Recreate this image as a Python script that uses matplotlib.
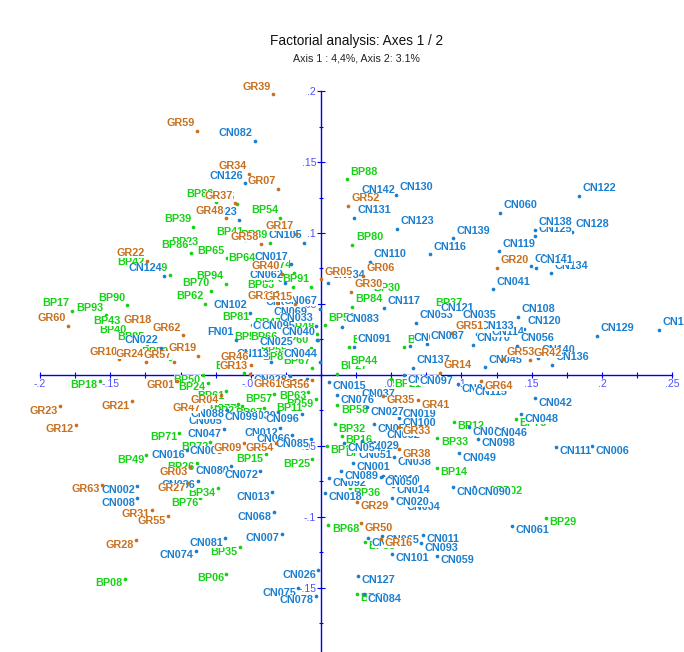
"""Factorial analysis scatter, axes 1 / 2."""

import matplotlib

matplotlib.use("Agg")
import matplotlib.pyplot as plt

# order matters: later labels cover earlier ones
bp_names = ["BP82", "BP75", "BP88", "BP54", "BP39", "BP41", "BP89", "BP23", "BP86", "BP65", "BP64", "BP74",
            "BP79", "BP42", "BP94", "BP70", "BP83", "BP38", "BP91", "BP62", "BP90", "BP17", "BP93", "BP40",
            "BP43", "BP81", "BP47", "BP48", "BP85", "BP56", "BP66", "BP31", "BP60", "BP52", "BP55", "BP87",
            "BP67", "BP10", "BP80", "BP30", "BP84", "BP51", "BP37", "BP09", "BP05", "BP27", "BP44", "BP21",
            "BP58", "BP32", "BP16", "BP19", "BP46", "BP36", "BP33", "BP14", "BP12", "BP78", "BP02", "BP68",
            "BP29", "BP53", "BP69", "BP18", "BP50", "BP24", "BP61", "BP57", "BP63", "BP59", "BP11", "BP77",
            "BP22", "BP07", "BP71", "BP72", "BP15", "BP25", "BP49", "BP26", "BP34", "BP76", "BP35", "BP06",
            "BP08"]
bp_x = [-.0750, -.0600, .0183, -.0290, -.0909, -.0541, -.0363, -.0857, -.0928, -.0669, -.0449, -.0192,
        -.1075, -.1241, -.0679, -.0781, -.0315, -.0199, -.0071, -.0824, -.1379, -.1775, -.1533, -.1367,
        -.1412, -.0493, -.0268, -.0031, -.1241, -.0411, -.0292, -.0023, -.0071, -.1075, -.0221, -.0209,
        -.0062, -.0546, .0223, .0344, .0221, .0026, .0787, .0197, .0589, .0112, .0183, .0496,
        .0116, .0098, .0150, .0041, .0147, .0206, .0828, .0826, .0945, .1388, .1215, .0052,
        .1600, .0315, .0254, -.1574, -.0842, -.0807, -.0674, -.0333, -.0090, -.0038, -.0119, -.0589,
        -.0560, -.0404, -.1009, -.0788, -.0394, -.0064, -.1244, -.0885, -.0733, -.0859, -.0577, -.0674,
        -.1396]
bp_y = [.1218, .1202, .1378, .1107, .1042, .0950, .0929, .0880, .0861, .0822, .0767, .0718,
        .0702, .0739, .0641, .0591, .0582, .0622, .0622, .0500, .0491, .0451, .0420, .0265,
        .0324, .0352, .0310, .0287, .0216, .0216, .0216, .0246, .0192, .0111, .0122, .0075,
        .0047, .0012, .0915, .0556, .0481, .0350, .0451, .0195, .0195, .0007, .0047, -.0030,
        -.0211, -.0345, -.0429, -.0498, -.0516, -.0798, -.0441, -.0653, -.0329, -.0308, -.0786, -.1054,
        -.1005, -.1174, -.1540, -.0040, -.0002, -.0054, -.0113, -.0136, -.0118, -.0171, -.0199, -.0204,
        -.0218, -.0234, -.0406, -.0472, -.0558, -.0593, -.0565, -.0617, -.0798, -.0868, -.1213, -.1401,
        -.1434]

cn_names = ["CN082", "CN126", "CN023", "CN105", "CN017", "CN124", "CN062", "CN102", "CN039", "CN067", "CN069",
            "CN033", "CN024", "CN095", "CN040", "FN01", "CN025", "CN044", "CN113", "CN022", "CN028", "CN086",
            "CN005", "CN088", "CN030", "CN099", "CN096", "CN047", "CN012", "CN066", "CN085", "CN003", "CN016",
            "CN080", "CN072", "CN036", "CN002", "CN008", "CN013", "CN068", "CN074", "CN081", "CN007", "CN026",
            "CN075", "CN078", "CN142", "CN130", "CN131", "CN123", "CN116", "CN139", "CN122", "CN060", "CN125",
            "CN138", "CN128", "CN119", "CN110", "CN143", "CN134", "CN141", "CN034", "CN041", "CN117", "CN083",
            "CN053", "CN121", "CN035", "CN108", "CN120", "CN070", "CN114", "CN133", "CN129", "CN135", "CN056",
            "CN091", "CN032", "CN087", "CN140", "CN136", "CN137", "CN045", "CN031", "CN097", "CN015", "CN037",
            "CN076", "CN027", "CN019", "CN100", "CN055", "CN052", "CN043", "CN115", "CN042", "CN048", "CN064",
            "CN046", "CN098", "CN111", "CN006", "CN049", "CN029", "CN051", "CN054", "CN038", "CN001", "CN092",
            "CN089", "CN010", "CN014", "CN050", "CN018", "CN004", "CN020", "CN077", "CN090", "CN011", "CN093",
            "CN101", "CN059", "CN061", "CN127", "CN084", "CN009", "CN065"]
cn_x = [-.0472, -.0539, -.0584, -.0119, -.0216, -.1116, -.0256, -.0508, -.0137, -.0007, -.0083,
        -.0038, -.0233, -.0169, -.0028, -.0607, -.0185, -.0007, -.0354, -.1141, -.0221, -.0102,
        -.0689, -.0671, -.0306, -.0429, -.0137, -.0691, -.0292, -.0204, -.0071, -.0684, -.0954,
        -.0639, -.0434, -.0878, -.1308, -.1308, -.0349, -.0335, -.0892, -.0681, -.0278, -.0019,
        -.0162, -.0036, .0263, .0536, .0237, .0541, .0776, .0938, .1837, .1272, .1522,
        .1524, .1787, .1267, .0349, .1493, .1638, .1533, .0050, .1225, .0449, .0150,
        .0676, .0828, .0983, .1403, .1447, .1084, .1187, .1109, .1963, .2407, .1393,
        .0235, .0634, .0753, .1547, .1647, .0655, .1168, .0591, .0676, .0059, .0266,
        .0116, .0328, .0557, .0557, .0379, .0441, .0978, .1066, .1522, .1424, .1054,
        .1203, .1116, .1671, .1927, .0980, .0290, .0242, .0164, .0522, .0226, .0057,
        .0142, .0439, .0515, .0427, .0028, .0586, .0508, .0942, .1092, .0728, .0712,
        .0508, .0824, .1362, .0263, .0306, .0337, .0432]
cn_y = [.1647, .1350, .1091, .0929, .0779, .0697, .0650, .0436, .0463, .0465, .0387,
        .0347, .0289, .0289, .0246, .0246, .0181, .0094, .0094, .0192, -.0005, -.0028,
        -.0294, -.0246, -.0258, -.0265, -.0277, -.0382, -.0375, -.0422, -.0453, -.0500, -.0528,
        -.0641, -.0674, -.0744, -.0779, -.0868, -.0826, -.0967, -.1237, -.1150, -.1119, -.1373,
        -.1502, -.1554, .1246, .1267, .1107, .1028, .0850, .0962, .1262, .1140, .0976,
        .1021, .1009, .0871, .0798, .0765, .0716, .0755, .0650, .0603, .0470, .0340,
        .0368, .0417, .0368, .0408, .0326, .0209, .0251, .0289, .0277, .0317, .0204,
        .0197, .0204, .0218, .0120, .0070, .0051, .0054, -.0003, -.0012, -.0047, -.0101,
        -.0141, -.0225, -.0239, -.0305, -.0345, -.0387, -.0063, -.0087, -.0164, -.0275, -.0368,
        -.0375, -.0448, -.0505, -.0500, -.0551, -.0465, -.0528, -.0481, -.0579, -.0617, -.0727,
        -.0676, -.0709, -.0781, -.0720, -.0829, -.0899, -.0864, -.0791, -.0791, -.1124, -.1185,
        -.1260, -.1272, -.1061, -.1415, -.1542, -.1150, -.1133]

gr_names = ["GR39", "GR59", "GR34", "GR07", "GR37", "GR48", "GR17", "GR58", "GR22", "GR40", "GR11", "GR15",
            "GR60", "GR18", "GR62", "GR10", "GR24", "GR57", "GR19", "GR46", "GR13", "GR01", "GR61", "GR56",
            "GR47", "GR04", "GR21", "GR23", "GR12", "GR09", "GR54", "GR03", "GR27", "GR63", "GR31", "GR55",
            "GR28", "GR52", "GR20", "GR06", "GR05", "GR30", "GR51", "GR53", "GR42", "GR14", "GR64", "GR35",
            "GR41", "GR33", "GR38", "GR29", "GR50", "GR16"]
gr_x = [-.0342, -.0883, -.0515, -.0306, -.0612, -.0676, -.0176, -.0429, -.1241, -.0276, -.0315, -.0185,
        -.1799, -.1189, -.0985, -.1436, -.1246, -.1047, -.0874, -.0501, -.0506, -.1025, -.0268, -.0064,
        -.0842, -.0714, -.1346, -.1856, -.1747, -.0548, -.0320, -.0933, -.0947, -.1557, -.1203, -.1087,
        -.1315, .0192, .1253, .0297, .0003, .0214, .0935, .1298, .1488, .0845, .1141, .0444,
        .0693, .0557, .0557, .0258, .0283, .0427]
gr_y = [.1976, .1720, .1417, .1309, .1209, .1103, .0995, .0920, .0805, .0711, .0505, .0498,
        .0347, .0331, .0279, .0111, .0094, .0089, .0134, .0070, .0009, -.0040, -.0028, -.0035,
        -.0199, -.0141, -.0185, -.0220, -.0350, -.0479, -.0479, -.0650, -.0762, -.0774, -.0950, -.0995,
        -.1162, .1190, .0755, .0697, .0674, .0586, .0294, .0111, .0103, .0016, -.0042, -.0146,
        -.0176, -.0364, -.0521, -.0892, -.1042, -.1152]

x_major = [-.2, -.15, -.1, -.05, .05, .1, .15, .2, .25]
x_major_labels = ["-.2", "-.15", "-.1", "-.05", ".05", ".1", ".15", ".2", ".25"]
y_major = [-.15, -.1, -.05, .05, .1, .15, .2]
y_major_labels = ["-.15", "-.1", "-.05", ".05", ".1", ".15", ".2"]
x_minor = [-.175, -.125, -.075, -.025, 0, .025, .075, .125, .175, .225]
y_minor = [-.175, -.125, -.075, -.025, 0, .025, .075, .125, .175]


def draw_group(ax, names, xs, ys, color, zorder):
    ax.scatter(xs, ys, s=7, color=color, linewidths=0, zorder=zorder)
    for name, x, y in zip(names, xs, ys):
        dx = 2.5 if x >= 0 else -1.5
        dy = 5.5 if y >= 0 else -3.3
        ax.annotate(name, (x, y), xytext=(dx, dy), textcoords="offset points",
                    ha="left" if x >= 0 else "right", va="center", color=color,
                    fontsize=7.8, fontweight="bold", zorder=zorder + 1,
                    bbox=dict(facecolor="white", edgecolor="none", pad=0))


plt.rcParams["font.family"] = ["Liberation Sans", "DejaVu Sans"]

fig = plt.figure(figsize=(6.84, 6.52), dpi=100)
ax = fig.add_axes([0, 0, 1, 1])
ax.set_xlim(-.2285, .2584)
ax.set_ylim(-.1951, .2641)
ax.patch.set_visible(False)
ax.set_axisbelow(True)

for side in ["top", "right"]:
    ax.spines[side].set_visible(False)
ax.spines["left"].set_position("zero")
ax.spines["bottom"].set_position("zero")
ax.spines["left"].set_bounds(-.1951, .2)
ax.spines["bottom"].set_bounds(-.2, .25)
ax.spines["left"].set_color("#0000f0")
ax.spines["bottom"].set_color("#0000f0")
ax.spines["left"].set_linewidth(1.0)
ax.spines["bottom"].set_linewidth(1.0)

ax.set_xticks(x_major)
ax.set_xticklabels(x_major_labels)
ax.set_yticks(y_major)
ax.set_yticklabels(y_major_labels)
ax.set_xticks(x_minor, minor=True)
ax.set_yticks(y_minor, minor=True)
ax.tick_params(which="both", direction="inout", color="#0000f0", width=0.8)
ax.tick_params(axis="x", which="both", length=4.5, labelsize=7.5, labelcolor="#5050ff", pad=0.5)
ax.tick_params(axis="y", which="major", length=6, labelsize=7.5, labelcolor="#5050ff", pad=0.5)
ax.tick_params(axis="y", which="minor", length=3)

draw_group(ax, bp_names, bp_x, bp_y, "#16d216", 3)
draw_group(ax, cn_names, cn_x, cn_y, "#1b7fd0", 5)
draw_group(ax, gr_names, gr_x, gr_y, "#c8701e", 7)

fig.text(356 / 684, 1 - 41.5 / 652, "Factorial analysis: Axes 1 / 2", ha="center", va="center", fontsize=9.8, color="#111111")
fig.text(356 / 684, 1 - 58.5 / 652, "Axis 1 : 4,4%, Axis 2: 3.1%", ha="center", va="center", fontsize=7.7, color="#222222")

fig.savefig("out.png", dpi=100)
plt.close(fig)
